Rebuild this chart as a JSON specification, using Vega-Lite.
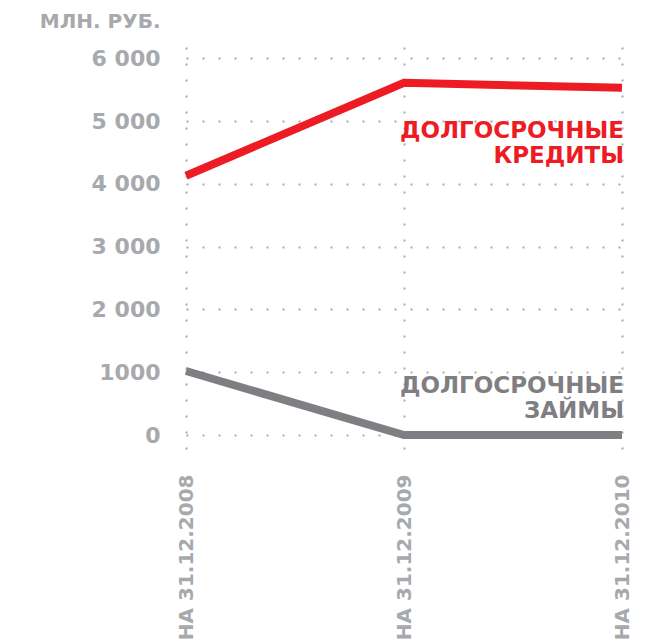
{
  "$schema": "https://vega.github.io/schema/vega-lite/v6.json",
  "autosize": "none",
  "width": 436,
  "height": 405,
  "padding": {"left": 186, "top": 47, "right": 42, "bottom": 192},
  "background": "white",
  "config": {
    "view": {"stroke": null},
    "font": "DejaVu Sans"
  },
  "datasets": {
    "lines": [
      {"date": "НА 31.12.2008", "series": "credits", "value": 4130},
      {"date": "НА 31.12.2009", "series": "credits", "value": 5610},
      {"date": "НА 31.12.2010", "series": "credits", "value": 5530},
      {"date": "НА 31.12.2008", "series": "loans", "value": 1020},
      {"date": "НА 31.12.2009", "series": "loans", "value": 0},
      {"date": "НА 31.12.2010", "series": "loans", "value": 0}
    ],
    "labels": [
      {"date": "НА 31.12.2010", "series": "credits", "value": 4850, "label": ["ДОЛГОСРОЧНЫЕ", "КРЕДИТЫ"]},
      {"date": "НА 31.12.2010", "series": "loans", "value": 780, "label": ["ДОЛГОСРОЧНЫЕ", "ЗАЙМЫ"]}
    ]
  },
  "encoding": {
    "x": {
      "field": "date", "type": "ordinal",
      "scale": {"type": "point", "padding": 0, "domain": ["НА 31.12.2008", "НА 31.12.2009", "НА 31.12.2010"]},
      "axis": {
        "title": null, "domain": false, "ticks": false,
        "grid": true, "gridColor": "#a7a9ac", "gridDash": [2, 14], "gridWidth": 2, "gridDashOffset": 0,
        "labelAngle": -90, "labelAlign": "right", "labelBaseline": "middle",
        "labelPadding": 22, "labelFontSize": 20, "labelFontWeight": "bold", "labelColor": "#a7a9ac"
      }
    },
    "y": {
      "field": "value", "type": "quantitative",
      "scale": {"domain": [-270, 6180], "nice": false, "zero": false},
      "axis": {
        "values": [0, 1000, 2000, 3000, 4000, 5000, 6000],
        "labelExpr": "datum.value == 1000 ? '1000' : replace(format(datum.value, ','), ',', ' ')",
        "domain": false, "ticks": false,
        "grid": true, "gridColor": "#a7a9ac", "gridDash": [2, 14], "gridWidth": 2,
        "labelPadding": 26, "labelFontSize": 22, "labelFontWeight": "bold", "labelColor": "#a7a9ac",
        "title": "МЛН. РУБ.", "titleAngle": 0, "titleAlign": "right", "titleBaseline": "alphabetic",
        "titleX": -26, "titleY": -20, "titleFontSize": 20, "titleFontWeight": "bold", "titleColor": "#a7a9ac"
      }
    },
    "color": {
      "field": "series", "type": "nominal",
      "scale": {"domain": ["credits", "loans"], "range": ["#ed1c24", "#7f7f83"]},
      "legend": null
    }
  },
  "layer": [
    {
      "data": {"name": "lines"},
      "mark": {"type": "line", "strokeWidth": 8, "strokeCap": "butt", "strokeJoin": "miter"}
    },
    {
      "data": {"name": "labels"},
      "mark": {"type": "text", "align": "right", "baseline": "middle", "fontSize": 23, "fontWeight": "bold", "lineHeight": 25, "dx": 2},
      "encoding": {"text": {"field": "label"}}
    }
  ]
}
